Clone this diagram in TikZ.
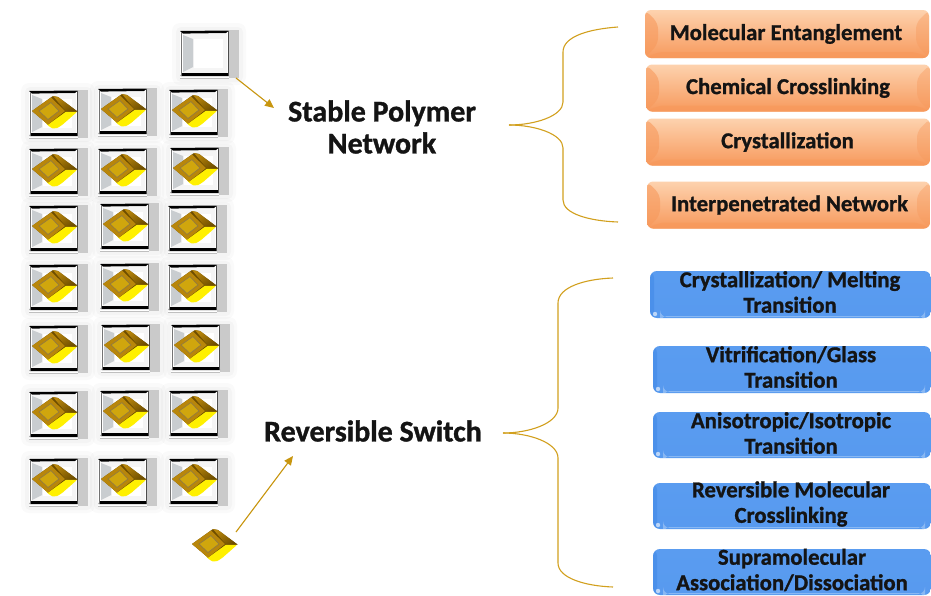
\documentclass[tikz,border=0pt]{standalone}
\usepackage{fontspec}
\setmainfont{Carlito}[BoldFeatures={FakeBold=1.1}]
\usetikzlibrary{arrows.meta,calc}
\definecolor{gold}{HTML}{C8960F}
\definecolor{bracegold}{HTML}{D2A01E}
\definecolor{gemdark}{HTML}{6E4E00}
\definecolor{gemface}{HTML}{B8860B}
\definecolor{orangemid}{HTML}{FDB384}
\definecolor{orangetop}{HTML}{FDD2AE}
\definecolor{orangeedge}{HTML}{F7995C}
\definecolor{bluebox}{HTML}{5A9CF0}
\definecolor{bluedeep}{HTML}{3F87E6}
\definecolor{bandgray}{HTML}{CACACA}
\definecolor{leftgray}{HTML}{C9CDD0}
\tikzset{
  x=1pt,y=-1pt,
  headtext/.style={font=\fontsize{30}{32}\selectfont\bfseries,align=center,text=black!92},
  boxtext/.style={font=\fontsize{22.7}{25.5}\selectfont\bfseries,align=center,text=black!92},
  orangestyle/.style={draw=none,rounded corners=6pt,inner sep=0pt,
     top color=orangetop,middle color=orangemid,bottom color=orangeedge,
     path picture={
       \fill[orangeedge,opacity=.6] (path picture bounding box.north west) -- ++(13pt,-13pt) -- ++(0,-21pt) -- (path picture bounding box.south west) -- cycle;
       \fill[orangeedge,opacity=.4] (path picture bounding box.north east) -- ++(-13pt,-13pt) -- ++(0,-21pt) -- (path picture bounding box.south east) -- cycle;
       \fill[orangeedge,opacity=.7] (path picture bounding box.south west) -- ++(13pt,6pt) -- ++(258pt,0) -- (path picture bounding box.south east) -- cycle;
     }},
  bluestyle/.style={draw=none,rounded corners=7pt,inner sep=0pt,top color=bluebox,bottom color=bluebox!90!bluedeep,
     path picture={
       \fill[bluedeep,opacity=.5] (path picture bounding box.north west) rectangle ++(4pt,-50pt);
       \fill[white,opacity=.6] ([shift={(5pt,4pt)}]path picture bounding box.south west) circle (2.2pt);
       \fill[white,opacity=.3] ([shift={(10pt,2pt)}]path picture bounding box.south west) rectangle ([shift={(-6pt,1pt)}]path picture bounding box.south east);
     }},
  bracestyle/.style={draw=bracegold,line width=1.1pt},
  arrowstyle/.style={draw=gold,line width=1.1pt,-{Triangle[length=9pt,width=8pt]}},
}
\newcommand{\gemat}[2]{%
  \begin{scope}[shift={(#1,#2)}]
    \fill[yellow!98!orange,rounded corners=2pt] (37,17) -- (48.5,20.5) -- (32,35) -- (26,38) -- (21,36.5) -- (14,29) -- cycle;
    \fill[gemdark] (3,20) -- (24,5) -- (29,6) -- (48.5,20.5) -- (37,20.5) -- (19,33.5) -- cycle;
    \shade[left color=gemface,right color=gemdark,shading angle=35] (24,5) -- (29,6) -- (48.5,20.5) -- (37,20.5) -- cycle;
    \fill[gemface] (3,20) -- (22,6.5) -- (36,20) -- (19,33.5) -- cycle;
    \fill[gold!85!yellow] (10,20) -- (22,11.5) -- (30,20) -- (19,28.5) -- cycle;
    \draw[gemdark!75,line width=.7pt] (10,20) -- (22,11.5) -- (30,20) -- (19,28.5) -- cycle;
  \end{scope}}
\newcommand{\frameat}[2]{%
  \begin{scope}[shift={(#1,#2)}]
    \fill[black,opacity=.02,rounded corners=8pt] (-8,-8) rectangle (66,54);
    \fill[black,opacity=.025,rounded corners=5pt] (-4,-4) rectangle (63,51);
    \fill[white] (0,0) rectangle (50,47);
    \fill[black!4] (3,3) rectangle (47,42);
    \fill[white] (14,8) rectangle (43,37);
    \fill[leftgray] (3,4) -- (13,8) -- (13,36) -- (3,41) -- cycle;
    \fill[bandgray] (49,-1) rectangle (59,47);
    \fill[black] (0,0) -- (49,-.5) -- (46,2) -- (3,2.6) -- cycle;
    \fill[black] (1.5,42) -- (48,42) -- (49,45) -- (0.5,45) -- cycle;
    \draw[black!55,line width=.6pt] (1,1) -- (1,45);
    \draw[black!70,line width=.9pt] (48.5,0) -- (48.5,45);
    \draw[black!25,line width=.6pt] (0,47) -- (49,47);
  \end{scope}}
\newcommand{\cellat}[2]{\frameat{#1}{#2}\gemat{#1}{#2}}
\begin{document}
\begin{tikzpicture}
\useasboundingbox (0,0) rectangle (931,595);
\fill[white] (0,0) rectangle (931,595);
% empty frame
\frameat{180}{31}
\coordinate (emptycell) at (236,78);
% grid
\cellat{29}{91}\cellat{98}{89}\cellat{169}{90}
\cellat{29}{149}\cellat{98}{149}\cellat{170}{148}
\cellat{29}{206}\cellat{100}{204}\cellat{168}{206}
\cellat{29}{265}\cellat{100}{264}\cellat{168}{265}
\cellat{29}{326}\cellat{101}{325}\cellat{171}{325}
\cellat{29}{392}\cellat{100}{391}\cellat{169}{391}
\cellat{29}{459}\cellat{98}{459}\cellat{169}{459}
\gemat{189}{524}
\coordinate (loosegem) at (236,532);
% headings
\node[headtext] (stable) at (382,127) {Stable Polymer\\Network};
\node[headtext] (switch) at (373,431) {Reversible Switch};
\coordinate (stabletip) at (274,108);
\coordinate (switchtip) at (293,456);
\draw[arrowstyle] (emptycell) -- (stabletip);
\draw[arrowstyle] (loosegem) -- (switchtip);
% braces
\coordinate (bra) at (509,125);
\coordinate (brb) at (503,433);
\draw[bracestyle] (618,27) .. controls (590,29) and (563,36) .. (563,52) -- (563,102) .. controls (563,116) and (535,125) .. (bra);
\draw[bracestyle] (bra) .. controls (535,125) and (563,134) .. (563,148) -- (563,200) .. controls (563,214) and (590,221) .. (618,222);
\draw[bracestyle] (613,278) .. controls (585,279) and (558,287) .. (558,303) -- (558,408) .. controls (558,423) and (530,433) .. (brb);
\draw[bracestyle] (brb) .. controls (530,433) and (558,443) .. (558,458) -- (558,563) .. controls (558,578) and (585,586) .. (613,587);
% orange boxes
\node[orangestyle,minimum width=284pt,minimum height=48pt] (o1) at (787,34) {};
\node[orangestyle,minimum width=284pt,minimum height=47pt] (o2) at (788,88) {};
\node[orangestyle,minimum width=284pt,minimum height=47pt] (o3) at (788,142) {};
\node[orangestyle,minimum width=283pt,minimum height=47pt] (o4) at (788.5,205) {};
\node[boxtext] at (786,34) {Molecular Entanglement};
\node[boxtext] at (788,88) {Chemical Crosslinking};
\node[boxtext] at (787.5,142) {Crystallization};
\node[boxtext] at (789.5,205) {Interpenetrated Network};
% blue boxes
\node[bluestyle,minimum width=281pt,minimum height=47pt] (b1) at (790.5,294.5) {};
\node[bluestyle,minimum width=278pt,minimum height=47pt] (b2) at (792,369.5) {};
\node[bluestyle,minimum width=278pt,minimum height=46pt] (b3) at (792,435) {};
\node[bluestyle,minimum width=278pt,minimum height=46pt] (b4) at (792,506) {};
\node[bluestyle,minimum width=278pt,minimum height=46pt] (b5) at (792,572) {};
\node[boxtext] at (790,292) {Crystallization/ Melting\\Transition};
\node[boxtext] at (791,367) {Vitrification/Glass\\Transition};
\node[boxtext] at (791,433) {Anisotropic/Isotropic\\Transition};
\node[boxtext] at (791,504) {Reversible Molecular\\Crosslinking};
\node[boxtext] at (792,570) {Supramolecular\\Association/Dissociation};
\end{tikzpicture}
\end{document}
